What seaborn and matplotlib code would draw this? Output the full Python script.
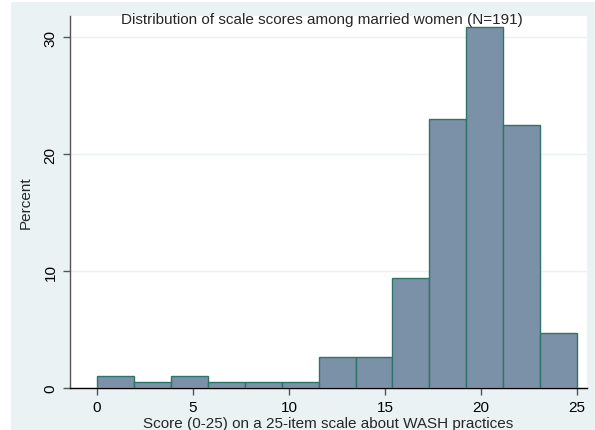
import numpy as np
import pandas as pd
import matplotlib
matplotlib.use("Agg")
import matplotlib.pyplot as plt
from matplotlib.patches import Rectangle
import seaborn as sns

# ---- data ----
n_total = 191
bin_count = 13
score_min, score_max = 0, 25
counts = [2, 1, 2, 1, 1, 1, 5, 5, 18, 44, 59, 43, 9]
x_ticks = [0, 5, 10, 15, 20, 25]
y_ticks = [0, 10, 20, 30]
title_text = "Distribution of scale scores among married women (N=191)"
x_label = "Score (0-25) on a 25-item scale about WASH practices"
y_label = "Percent"

edges = np.linspace(score_min, score_max, bin_count + 1)
centers = (edges[:-1] + edges[1:]) / 2
percent = np.array(counts) / n_total * 100
df = pd.DataFrame({"score": centers, "pct": percent})

sns.set_theme(style="white")
plt.rcParams["font.family"] = ["Liberation Sans", "DejaVu Sans"]

BG = "#EAF2F3"
fig = plt.figure(figsize=(5.95, 4.31), dpi=100, facecolor="white")
fig.patches.append(Rectangle((11 / 595, 0), 1 - 11 / 595, 1 - 3 / 431,
                             transform=fig.transFigure, facecolor=BG,
                             edgecolor="none", zorder=-10))
ax = fig.add_axes([70 / 595, 1 - 389 / 431, 517 / 595, 372 / 431])
ax.set_facecolor("white")

sns.histplot(data=df, x="score", weights="pct", bins=bin_count,
             binrange=(score_min, score_max), ax=ax,
             color="#7B91A8", edgecolor="#2E7468", linewidth=1.0, alpha=1.0,
             zorder=3)

ax.set_xlim(-1.41, 25.52)
ax.set_ylim(0, 31.8)
ax.set_xticks(x_ticks)
ax.set_yticks(y_ticks)
ax.set_yticklabels([str(v) for v in y_ticks], rotation=90, va="center")
ax.grid(axis="y", color=BG, linewidth=1.0, zorder=0)
ax.set_axisbelow(True)

for s in ["top", "right"]:
    ax.spines[s].set_visible(False)
ax.spines["left"].set_color("#555555")
ax.spines["left"].set_linewidth(1.0)
ax.spines["bottom"].set_color("black")
ax.spines["bottom"].set_linewidth(1.0)

ax.tick_params(axis="both", which="major", direction="out", length=5,
               width=1.0, labelsize=11, colors="black", pad=4, left=True,
               bottom=True)
ax.tick_params(axis="x", colors="#555555", labelcolor="black")
ax.tick_params(axis="y", colors="#555555", labelcolor="black")

ax.set_xlabel(x_label, fontsize=11, labelpad=1)
ax.set_ylabel(y_label, fontsize=11, labelpad=8)
fig.text(322 / 595, 1 - 20 / 431, title_text, ha="center", va="center",
         fontsize=11)

fig.savefig("out.png", dpi=100, facecolor=fig.get_facecolor())
